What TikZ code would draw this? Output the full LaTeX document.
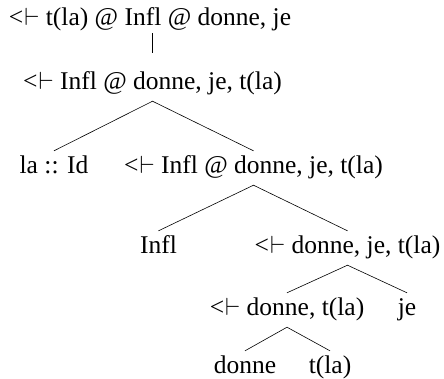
\documentclass[tikz,border=0pt]{standalone}
\usepackage{fontspec}
\setmainfont{Liberation Serif}
\newcommand{\ltack}{<\kern1pt$\vdash$}
\begin{document}
\begin{tikzpicture}[x=1pt,y=-1pt,
  lbl/.style={anchor=base, font=\fontsize{25.5}{28}\selectfont, inner xsep=0pt, inner ysep=8pt, text height=14pt, text depth=4pt},
  edge/.style={line width=0.6pt}]
\useasboundingbox (0,0) rectangle (444,378);
\node[lbl] (root) at (150,25) {\ltack{} t(la) @ Infl @ donne, je};
\node[lbl] (n2) at (152.5,89) {\ltack{} Infl @ donne, je, t(la)};
\node[lbl] (la) at (54,173) {la :: Id};
\node[lbl] (n3) at (253.5,173) {\ltack{} Infl @ donne, je, t(la)};
\node[lbl] (infl) at (158.5,253) {Infl};
\node[lbl] (n4) at (347.5,253) {\ltack{} donne, je, t(la)};
\node[lbl] (n5) at (287,315) {\ltack{} donne, t(la)};
\node[lbl] (je) at (407,315) {je};
\node[lbl] (donne) at (245,373) {donne};
\node[lbl] (tla) at (330,373) {t(la)};
\draw[edge] ([yshift=4pt]root.south -| n2.north) -- ([yshift=14pt]n2.north);
\draw[edge] (la.north) -- (n2.south) -- (n3.north);
\draw[edge] (infl.north) -- (n3.south) -- (n4.north);
\draw[edge] (n5.north) -- (n4.south) -- (je.north);
\draw[edge] (donne.north) -- (n5.south) -- (tla.north);
\end{tikzpicture}
\end{document}
